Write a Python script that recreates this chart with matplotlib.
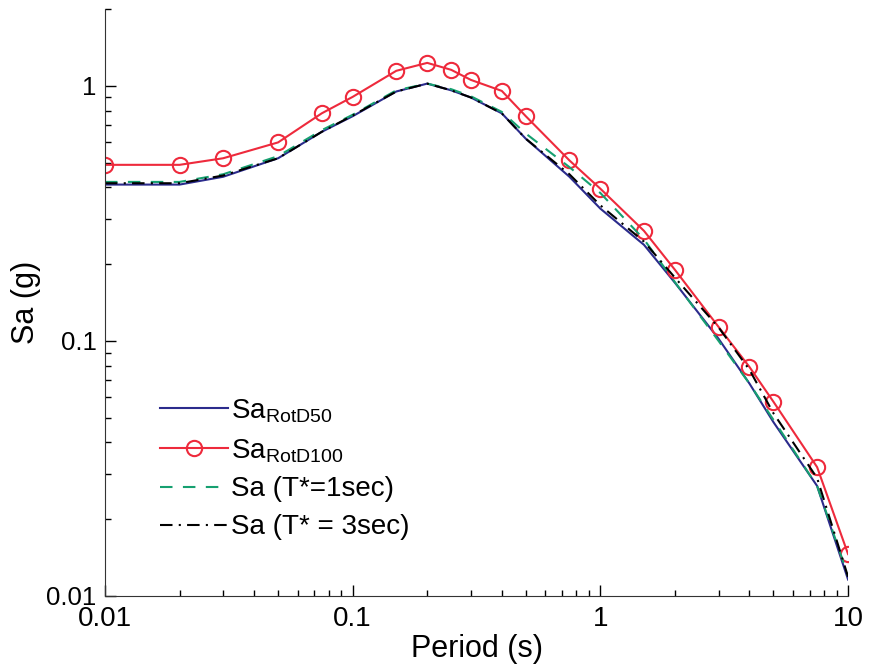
import matplotlib
matplotlib.use("Agg")
import matplotlib.pyplot as plt
from matplotlib.ticker import FixedLocator, FixedFormatter, LogLocator, NullFormatter

plt.rcParams["font.family"] = ["Liberation Sans", "DejaVu Sans"]
plt.rcParams["mathtext.fontset"] = "custom"
plt.rcParams["mathtext.rm"] = "Liberation Sans"

period = [0.01, 0.02, 0.03, 0.05, 0.075, 0.1, 0.15, 0.2, 0.25, 0.3, 0.4,
          0.5, 0.75, 1, 1.5, 2, 3, 4, 5, 7.5, 10]

sa_rotd50 = [0.41, 0.41, 0.44, 0.52, 0.66, 0.76, 0.95, 1.02, 0.96, 0.90, 0.78,
             0.62, 0.44, 0.33, 0.238, 0.169, 0.102, 0.068, 0.048, 0.027, 0.0116]
sa_rotd100 = [0.49, 0.49, 0.52, 0.60, 0.78, 0.905, 1.145, 1.23, 1.155, 1.055, 0.955,
              0.76, 0.51, 0.395, 0.27, 0.19, 0.1135, 0.079, 0.0577, 0.032, 0.0146]
sa_t1 = [0.42, 0.42, 0.45, 0.53, 0.67, 0.77, 0.96, 1.02, 0.97, 0.91, 0.79,
         0.65, 0.48, 0.38, 0.25, 0.17, 0.10, 0.068, 0.049, 0.027, 0.012]
sa_t3 = [0.415, 0.415, 0.445, 0.52, 0.66, 0.765, 0.95, 1.02, 0.96, 0.90, 0.78,
         0.62, 0.45, 0.34, 0.245, 0.177, 0.113, 0.077, 0.052, 0.029, 0.0119]

fig = plt.figure(figsize=(8.77, 6.68), dpi=100)
ax = fig.add_axes([0.1197, 0.1078, 0.967 - 0.1197, 0.9865 - 0.1078])

ax.plot(period, sa_rotd50, color="#2b2b8c", lw=1.5, label=r"Sa$_{\mathrm{RotD50}}$")
ax.plot(period, sa_rotd100, color="#ee2a3c", lw=1.5, marker="o", ms=11,
        mfc="none", mec="#ee2a3c", mew=1.5, label=r"Sa$_{\mathrm{RotD100}}$")
ax.plot(period, sa_t1, color="#16a070", lw=1.5, ls=(0, (6, 5)), label="Sa (T*=1sec)")
ax.plot(period, sa_t3, color="black", lw=1.5, ls=(0, (6, 3, 1, 3)), label="Sa (T* = 3sec)")

ax.set_xscale("log")
ax.set_yscale("log")
ax.set_xlim(0.01, 10)
ax.set_ylim(0.01, 2.0)

ax.xaxis.set_major_locator(FixedLocator([0.01, 0.1, 1, 10]))
ax.xaxis.set_major_formatter(FixedFormatter(["0.01", "0.1", "1", "10"]))
ax.yaxis.set_major_locator(FixedLocator([0.01, 0.1, 1]))
ax.yaxis.set_major_formatter(FixedFormatter(["0.01", "0.1", "1"]))
for axis in (ax.xaxis, ax.yaxis):
    axis.set_minor_locator(LogLocator(base=10, subs=range(2, 10), numticks=20))
    axis.set_minor_formatter(NullFormatter())

ax.tick_params(which="major", direction="in", length=8, width=1)
ax.tick_params(axis="x", which="major", labelsize=20, pad=7)
ax.tick_params(axis="y", which="major", labelsize=18.5, pad=6)
ax.tick_params(which="minor", direction="in", length=4, width=1)
ax.spines["top"].set_visible(False)
ax.spines["right"].set_visible(False)
ax.spines["left"].set_color("#333333")
ax.spines["bottom"].set_color("#333333")

ax.set_xlabel("Period (s)", fontsize=22, labelpad=2)
ax.set_ylabel("Sa (g)", fontsize=22, labelpad=4)

ax.legend(loc="upper left", bbox_to_anchor=(160 / 877, 1 - 397 / 668),
          bbox_transform=fig.transFigure, frameon=False, fontsize=20,
          handlelength=2.45, handletextpad=0.1, labelspacing=0.43,
          borderpad=0, borderaxespad=0)

fig.savefig("out.png", dpi=100)
